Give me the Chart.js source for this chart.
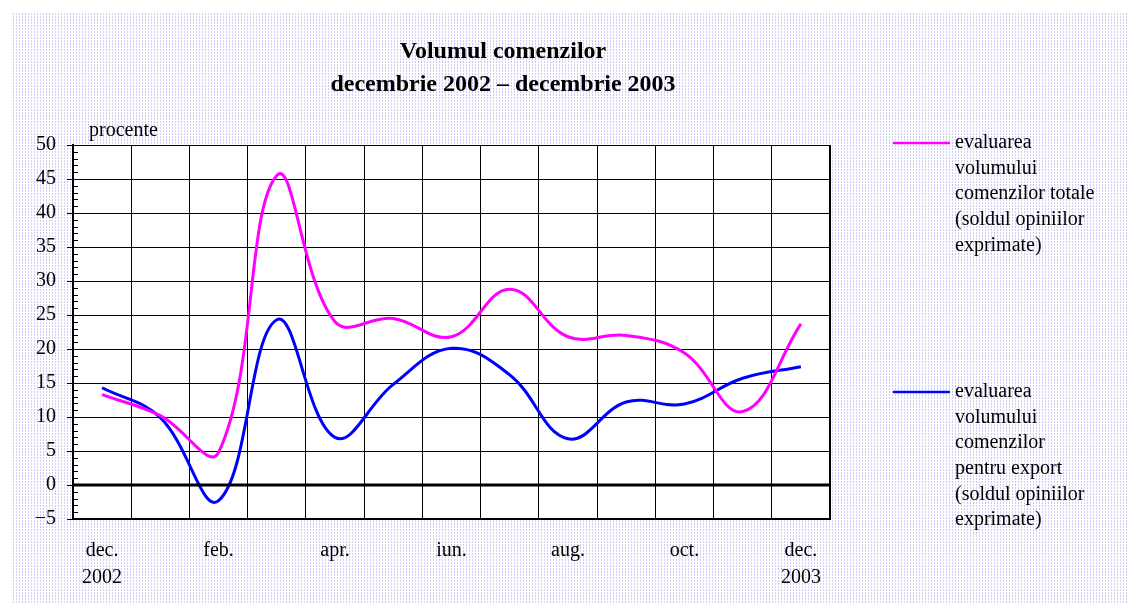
<!DOCTYPE html>
<html>
<head>
<meta charset="utf-8">
<script src="https://cdn.jsdelivr.net/npm/chart.js@4/dist/chart.umd.min.js"></script>
<style>
  html, body { margin: 0; padding: 0; background: #fff; }
  #wrap { position: relative; width: 1128px; height: 612px; overflow: hidden; }
  #pattern {
    position: absolute; left: 13px; top: 12px; right: 0; bottom: 8px;
    background-color: #fff;
    background-image:
      repeating-linear-gradient(0deg, #fff 0 1px, transparent 1px 3px),
      repeating-linear-gradient(90deg, #cbcbf5 0 1px, transparent 1px 3px);
  }
  canvas { position: absolute; left: 0; top: 0; }
</style>
</head>
<body>
<div id="wrap">
  <div id="pattern"></div>
  <canvas id="chart" width="1128" height="612"></canvas>
</div>
<script>
// date (luni dec. 2002 - dec. 2003)
const months = ['dec.', 'ian.', 'feb.', 'mar.', 'apr.', 'mai', 'iun.', 'iul.', 'aug.', 'sep.', 'oct.', 'nov.', 'dec.'];
const years = ['2002', '', '', '', '', '', '', '', '', '', '', '', '2003'];
const comenziTotale = [13.3, 10.2, 4.8, 45.5, 24.0, 24.5, 21.8, 28.8, 21.8, 22.0, 19.4, 10.8, 23.7];
const comenziExport = [14.3, 9.9, -2.3, 24.3, 7.0, 14.8, 20.1, 16.2, 6.8, 12.2, 11.9, 15.7, 17.4];
const legendTotale = ['evaluarea', 'volumului', 'comenzilor totale', '(soldul opiniilor', 'exprimate)'];
const legendExport = ['evaluarea', 'volumului', 'comenzilor', 'pentru export', '(soldul opiniilor', 'exprimate)'];
const titleLines = ['Volumul comenzilor', 'decembrie 2002 \u2013 decembrie 2003'];

const SERIF = "'Times New Roman', 'Liberation Serif', serif";

// fundal alb + chenar + diviziuni mici + titlu + legenda
const extras = {
    id: 'extras',
    beforeDraw(chart) {
        const { ctx, chartArea: a } = chart;
        ctx.save();
        ctx.fillStyle = '#fff';
        ctx.fillRect(a.left, a.top, a.right - a.left, a.bottom - a.top);
        ctx.restore();
    },
    afterDatasetsDraw(chart) {
        const { ctx, chartArea: a, scales } = chart;
        const y = scales.y;
        ctx.save();
        // linia zero mai groasa
        ctx.strokeStyle = '#000';
        ctx.lineWidth = 3;
        const y0 = y.getPixelForValue(0);
        ctx.beginPath();
        ctx.moveTo(a.left, y0);
        ctx.lineTo(a.right, y0);
        ctx.stroke();
        // chenar
        ctx.lineWidth = 1;
        ctx.strokeRect(a.left + 0.5, a.top + 0.5, a.right - a.left - 1, a.bottom - a.top - 1);
        ctx.lineWidth = 2;
        ctx.beginPath();
        ctx.moveTo(a.left, a.top);
        ctx.lineTo(a.left, a.bottom);
        ctx.stroke();
        // diviziuni mici pe axa y
        ctx.lineWidth = 1;
        for (let v = y.min; v <= y.max; v++) {
            if (v % 5 === 0) continue;
            const py = Math.round(y.getPixelForValue(v)) + 0.5;
            ctx.beginPath();
            ctx.moveTo(a.left, py);
            ctx.lineTo(a.left + 5, py);
            ctx.stroke();
        }
        ctx.restore();
    },
    afterDraw(chart) {
        const { ctx } = chart;
        ctx.save();
        ctx.fillStyle = '#000';
        ctx.textBaseline = 'middle';
        // titlu
        ctx.font = 'bold 24px ' + SERIF;
        ctx.textAlign = 'center';
        ctx.fillText(titleLines[0], 503, 52);
        ctx.fillText(titleLines[1], 503, 85);
        // eticheta unitate
        ctx.font = '20px ' + SERIF;
        ctx.textAlign = 'left';
        ctx.fillText('procente', 89, 131);
        // legenda
        const items = [
            { lines: legendTotale, color: chart.data.datasets[0].borderColor, y: 143 },
            { lines: legendExport, color: chart.data.datasets[1].borderColor, y: 392 }
        ];
        items.forEach(it => {
            ctx.strokeStyle = it.color;
            ctx.lineWidth = 2.5;
            ctx.beginPath();
            ctx.moveTo(893, it.y);
            ctx.lineTo(950, it.y);
            ctx.stroke();
            it.lines.forEach((t, i) => ctx.fillText(t, 955, it.y + i * 25.6));
        });
        ctx.restore();
    }
};

new Chart(document.getElementById('chart'), {
    type: 'line',
    data: {
        labels: months,
        datasets: [
            {
                label: 'evaluarea volumului comenzilor totale (soldul opiniilor exprimate)',
                data: comenziTotale,
                borderColor: '#ff00ff',
                borderWidth: 3,
                pointRadius: 0,
                tension: 0.4,
                fill: false
            },
            {
                label: 'evaluarea volumului comenzilor pentru export (soldul opiniilor exprimate)',
                data: comenziExport,
                borderColor: '#0000ff',
                borderWidth: 3,
                pointRadius: 0,
                tension: 0.4,
                fill: false
            }
        ]
    },
    options: {
        responsive: false,
        animation: false,
        devicePixelRatio: 1,
        layout: { padding: { left: 0, top: 145, right: 298, bottom: 0 } },
        plugins: {
            legend: { display: false },
            title: { display: false },
            tooltip: { enabled: false }
        },
        scales: {
            x: {
                offset: true,
                afterFit: (s) => { s.height = 93; },
                grid: { offset: true, color: '#000', lineWidth: 1, drawTicks: false },
                border: { color: '#000', width: 1 },
                ticks: {
                    autoSkip: false,
                    maxRotation: 0,
                    padding: 18,
                    color: '#000',
                    font: { family: SERIF, size: 20, lineHeight: 1.35 },
                    callback: (val, i) => {
                        if (i % 2 === 1) return '';
                        return years[i] ? [months[i], years[i]] : months[i];
                    }
                }
            },
            y: {
                min: -5,
                max: 50,
                afterFit: (s) => { s.width = 73; },
                grid: { color: '#000', lineWidth: 1, tickLength: 6 },
                border: { color: '#000', width: 2 },
                ticks: {
                    stepSize: 5,
                    padding: 11,
                    color: '#000',
                    font: { family: SERIF, size: 20 },
                    callback: (v) => v < 0 ? '\u2212' + Math.abs(v) : v
                }
            }
        }
    },
    plugins: [extras]
});
</script>
</body>
</html>
